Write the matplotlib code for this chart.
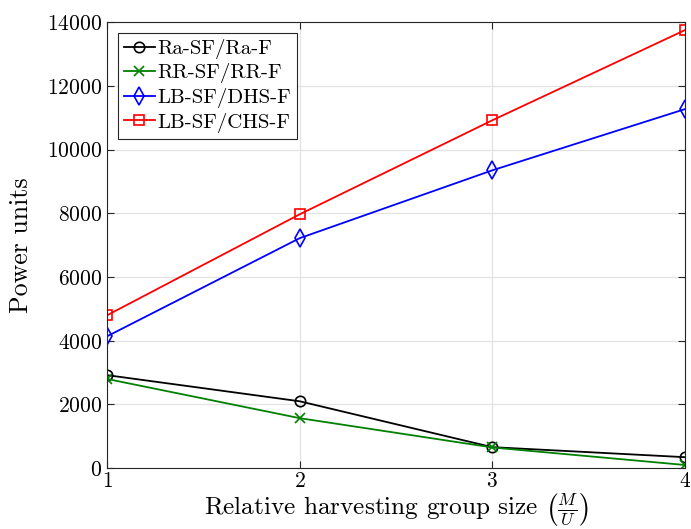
import matplotlib
matplotlib.use("Agg")
import matplotlib.pyplot as plt

plt.rcParams["font.family"] = "cmr10"
plt.rcParams["mathtext.fontset"] = "cm"
plt.rcParams["axes.formatter.use_mathtext"] = True

group_size = [1, 2, 3, 4]
ra_sf = [2920, 2100, 660, 345]
rr_sf = [2800, 1570, 650, 100]
lb_dhs = [4140, 7220, 9350, 11270]
lb_chs = [4800, 7970, 10920, 13750]

fig = plt.figure(figsize=(6.91, 5.29), dpi=100)
ax = fig.add_axes([0.155, 0.115, 0.836, 0.843])

ax.plot(group_size, ra_sf, color="black", marker="o", mfc="none", ms=7.5, mew=1.2, lw=1.3, label="Ra-SF/Ra-F")
ax.plot(group_size, rr_sf, color="#008000", marker="x", ms=7, mew=1.2, lw=1.3, label="RR-SF/RR-F")
ax.plot(group_size, lb_dhs, color="blue", marker="d", mfc="none", ms=9, mew=1.2, lw=1.3, label="LB-SF/DHS-F")
ax.plot(group_size, lb_chs, color="red", marker="s", mfc="none", ms=6.5, mew=1.2, lw=1.3, label="LB-SF/CHS-F")

ax.set_xlim(1, 4)
ax.set_ylim(0, 14000)
ax.set_xticks([1, 2, 3, 4])
ax.set_yticks(range(0, 14001, 2000))
ax.tick_params(direction="in", top=True, right=True, labelsize=15.5, length=5, color="#262626")
ax.tick_params(axis="x", pad=2.5)
ax.grid(True, color="#e3e3e3", lw=0.9)
ax.set_axisbelow(True)
for s in ax.spines.values():
    s.set_color("#262626")
    s.set_linewidth(0.8)

ax.set_xlabel(r"Relative harvesting group size $\left(\frac{M}{U}\right)$", fontsize=18.2, labelpad=0)
ax.set_ylabel("Power units", fontsize=18.6, labelpad=10)

leg = ax.legend(loc="upper left", fontsize=15, fancybox=False, framealpha=1,
                edgecolor="#262626", handlelength=1.5, handletextpad=0.1,
                borderpad=0.3, labelspacing=0.22, borderaxespad=0.5)
leg.get_frame().set_linewidth(0.8)

fig.savefig("out.png", dpi=100)
